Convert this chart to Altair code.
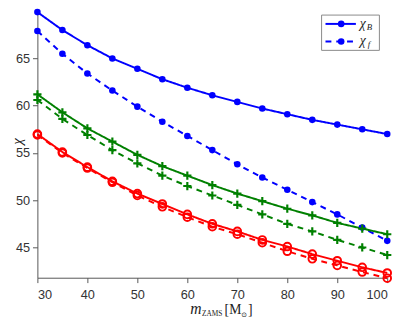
import altair as alt
import pandas as pd

mass = [30, 35, 40, 45, 50, 55, 60, 65, 70, 75, 80, 85, 90, 95, 100]
blue_B = [69.9, 68.0, 66.4, 65.0, 63.9, 62.8, 61.9, 61.1, 60.4, 59.7, 59.1, 58.5, 58.0, 57.5, 57.0]
blue_f = [67.9, 65.5, 63.4, 61.6, 59.9, 58.3, 56.8, 55.3, 53.8, 52.4, 51.1, 49.8, 48.5, 47.1, 45.7]
green_B = [61.2, 59.3, 57.6, 56.2, 54.8, 53.6, 52.6, 51.6, 50.7, 49.9, 49.1, 48.4, 47.6, 47.0, 46.4]
green_f = [60.6, 58.6, 56.9, 55.3, 53.9, 52.6, 51.5, 50.5, 49.5, 48.5, 47.5, 46.7, 45.8, 45.0, 44.2]
red_B = [57.0, 55.1, 53.5, 52.0, 50.7, 49.6, 48.5, 47.5, 46.7, 45.8, 45.1, 44.3, 43.6, 42.9, 42.3]
red_f = [56.9, 55.0, 53.4, 51.9, 50.5, 49.3, 48.2, 47.2, 46.4, 45.5, 44.6, 43.8, 43.1, 42.4, 41.75]

x_ticks = [30, 40, 50, 60, 70, 80, 90, 100]
y_ticks = [45, 50, 55, 60, 65]

series = {
    ("blue", "B"): blue_B, ("blue", "f"): blue_f,
    ("green", "B"): green_B, ("green", "f"): green_f,
    ("red", "B"): red_B, ("red", "f"): red_f,
}
rows = []
for (grp, kind), vals in series.items():
    for m, v in zip(mass, vals):
        rows.append({"m": m, "chi": v, "grp": grp, "kind": kind, "id": grp + kind})
df = pd.DataFrame(rows)

W, H = 357, 272
xs = alt.Scale(domain=[30, 100], nice=False, zero=False)
ys = alt.Scale(domain=[41.8, 70], nice=False, zero=False)
col = alt.Scale(domain=["blue", "green", "red"], range=["#0000ff", "#008000", "#ff0000"])
dash = alt.Scale(domain=["B", "f"], range=[[1, 0], [6, 5]])

lab = dict(labelFont="Liberation Sans", labelFontSize=13, labelColor="#333333",
           domainColor="#555555", tickColor="#555555", tickSize=5, grid=False, title=None)

base = alt.Chart(df)
X = alt.X("m:Q", scale=xs, axis=alt.Axis(values=x_ticks, labelPadding=6, **lab))
Y = alt.Y("chi:Q", scale=ys, axis=alt.Axis(values=y_ticks, labelPadding=3, **lab))

lines = base.mark_line(strokeWidth=2, clip=False).encode(
    x=X, y=Y,
    color=alt.Color("grp:N", scale=col, legend=None),
    strokeDash=alt.StrokeDash("kind:N", scale=dash, legend=None),
    detail="id:N",
)
blue_pts = base.transform_filter(alt.datum.grp == "blue").mark_point(
    shape="circle", filled=True, size=45, color="#0000ff", opacity=1, clip=False
).encode(x="m:Q", y="chi:Q")
green_pts = base.transform_filter(alt.datum.grp == "green").mark_point(
    shape="M-1,0L1,0M0,-1L0,1", filled=False, size=70, strokeWidth=2.2,
    color="#008000", opacity=1, clip=False
).encode(x="m:Q", y="chi:Q")
red_pts = base.transform_filter(alt.datum.grp == "red").mark_point(
    shape="circle", filled=False, size=60, strokeWidth=2, color="#ff0000",
    opacity=1, clip=False
).encode(x="m:Q", y="chi:Q")

one = pd.DataFrame({"k": [0]})


def txt(s, x, y, size, italic=False, font="Liberation Serif", angle=0,
        align="left", baseline="alphabetic", color="#222222"):
    kw = dict(text=s, font=font, fontSize=size, align=align, baseline=baseline, color=color)
    if italic:
        kw["fontStyle"] = "italic"
    if angle:
        kw["angle"] = angle
    return alt.Chart(one).mark_text(**kw).encode(x=alt.value(x), y=alt.value(y))


# axis titles
xtitle = [
    txt("m", 156, 309, 16, italic=True),
    txt("ZAMS", 168, 311, 7.5),
    txt("[M", 191, 309, 14),
    txt("⊙", 208, 312, 7, font="DejaVu Sans"),
    txt("]", 215, 309, 14),
]
ytitle = [txt("χ", -21, 133, 15, italic=True, angle=270, align="center", baseline="middle")]

# legend
box = alt.Chart(one).mark_rect(fill="white", stroke="#888888", strokeWidth=1).encode(
    x=alt.value(290), x2=alt.value(349), y=alt.value(4), y2=alt.value(40))
leg_lines = [
    alt.Chart(one).mark_rule(color="#0000ff", strokeWidth=2).encode(
        x=alt.value(294), x2=alt.value(325), y=alt.value(13)),
    alt.Chart(one).mark_rule(color="#0000ff", strokeWidth=2, strokeDash=[6, 5]).encode(
        x=alt.value(294), x2=alt.value(325), y=alt.value(31)),
    alt.Chart(one).mark_point(shape="circle", filled=True, size=45, color="#0000ff", opacity=1).encode(
        x=alt.value(310), y=alt.value(13)),
    alt.Chart(one).mark_point(shape="circle", filled=True, size=45, color="#0000ff", opacity=1).encode(
        x=alt.value(310), y=alt.value(31)),
]
leg_txt = [
    txt("χ", 329, 17, 14, italic=True),
    txt("B", 336, 19, 9, italic=True),
    txt("χ", 329, 35, 14, italic=True),
    txt("f", 337, 37, 9, italic=True),
]

chart = alt.layer(
    lines, blue_pts, green_pts, red_pts, box, *leg_lines, *leg_txt, *xtitle, *ytitle
).properties(
    width=W, height=H,
    autosize=alt.AutoSizeParams(type="none"),
    padding={"left": 30, "top": 0, "right": 12, "bottom": 44},
).configure_view(stroke=None)

chart.save("out.html", embed_options={"renderer": "svg", "actions": False})
